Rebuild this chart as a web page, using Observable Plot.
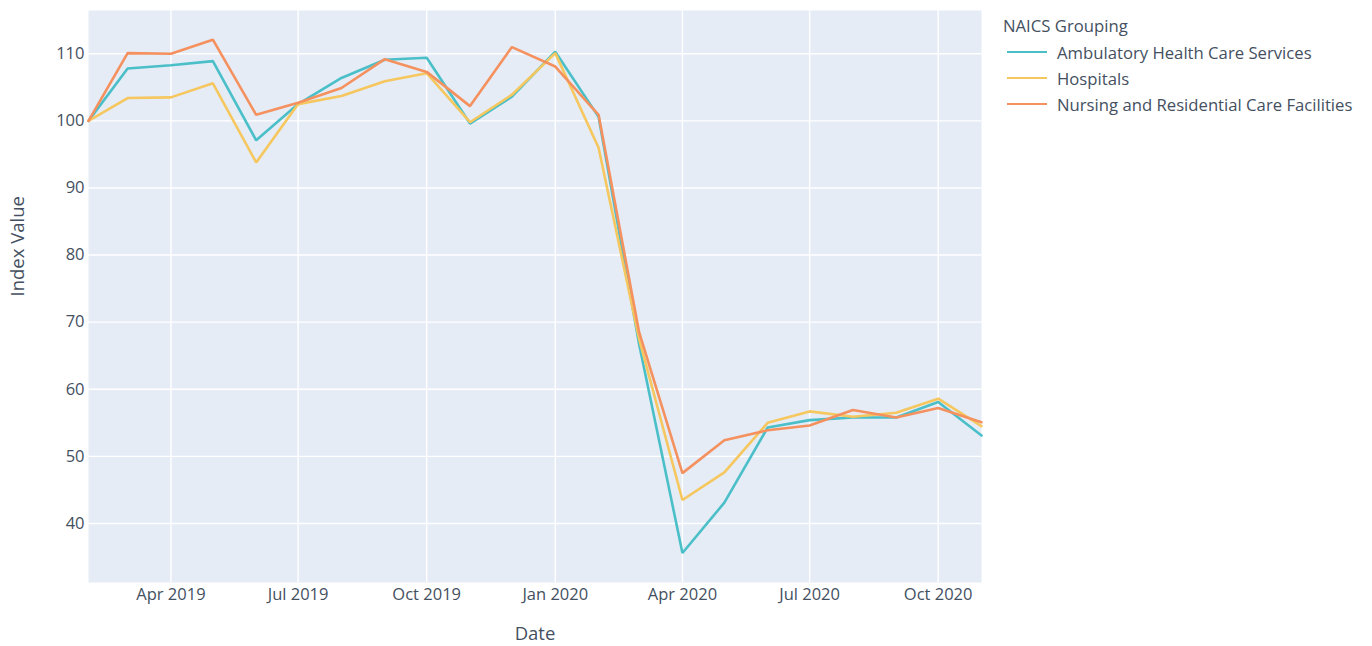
<!DOCTYPE html>
<html>
<head>
<meta charset="utf-8">
<script src="https://cdn.jsdelivr.net/npm/d3@7"></script>
<script src="https://cdn.jsdelivr.net/npm/@observablehq/plot@0.6"></script>
<style>
  html, body { margin: 0; padding: 0; background: #fff; }
  body { width: 1372px; height: 646px; position: relative; overflow: hidden; font-family: "Open Sans", sans-serif; }
  #legend { position: absolute; left: 1003px; top: 13px; color: #44505f; font-size: 16.7px; }
  #legend .title { height: 26px; line-height: 26px; }
  #legend .item { height: 26px; display: flex; align-items: center; }
  #legend .swatch { width: 40px; height: 0; border-top: 2.5px solid; margin-left: 4px; margin-right: 10px; }
</style>
</head>
<body>
<div id="chart"></div>
<div id="legend"></div>
<script>
const months = ["2019-02","2019-03","2019-04","2019-05","2019-06","2019-07","2019-08","2019-09","2019-10","2019-11","2019-12",
                "2020-01","2020-02","2020-03","2020-04","2020-05","2020-06","2020-07","2020-08","2020-09","2020-10","2020-11"];
const seriesNames = ["Ambulatory Health Care Services", "Hospitals", "Nursing and Residential Care Facilities"];
const ambulatory = [100, 107.8, 108.3, 108.9, 97.1, 102.5, 106.4, 109.1, 109.4, 99.6, 103.6, 110.3, 100.6, 66.7, 35.6, 43.1, 54.3, 55.4, 55.8, 55.8, 58.1, 53.1];
const hospitals  = [100, 103.4, 103.5, 105.6, 93.8, 102.5, 103.7, 105.9, 107.1, 99.8, 103.9, 110.1, 96.0, 67.5, 43.5, 47.6, 55.0, 56.7, 55.9, 56.5, 58.6, 54.5];
const nursing    = [100, 110.1, 110.0, 112.1, 100.9, 102.7, 104.9, 109.2, 107.3, 102.2, 111.0, 108.1, 100.9, 68.5, 47.5, 52.4, 53.9, 54.6, 56.9, 55.8, 57.2, 55.1];
const colors = ["#4bbfc8", "#f6c75e", "#f4915f"];
const yTicks = [40, 50, 60, 70, 80, 90, 100, 110];
const xTickLabels = ["2019-04","2019-07","2019-10","2020-01","2020-04","2020-07","2020-10"];

const parse = s => new Date(s + "-01T00:00:00Z");
const allSeries = [ambulatory, hospitals, nursing];
const rows = [];
allSeries.forEach((vals, si) => vals.forEach((v, i) => rows.push({date: parse(months[i]), value: v, series: seriesNames[si]})));
const xTicks = xTickLabels.map(parse);
const fmt = d3.utcFormat("%b %Y");
const textColor = "#44505f";

const chart = Plot.plot({
  width: 1372,
  height: 646,
  marginLeft: 88,
  marginRight: 391,
  marginTop: 10,
  marginBottom: 64,
  style: { fontFamily: "Open Sans, sans-serif", fontSize: "16.5px", color: textColor, background: "#fff" },
  x: { type: "utc", domain: [parse(months[0]), parse(months[months.length - 1])] },
  y: { domain: [31.2, 116.45] },
  color: { domain: seriesNames, range: colors },
  marks: [
    Plot.frame({ fill: "#e5ecf6", stroke: "none" }),
    Plot.gridX(xTicks, { stroke: "#ffffff", strokeOpacity: 1, strokeWidth: 1.4 }),
    Plot.gridY(yTicks, { stroke: "#ffffff", strokeOpacity: 1, strokeWidth: 1.4 }),
    Plot.axisX(xTicks, { tickSize: 0, tickPadding: 6, tickFormat: fmt, fill: textColor, label: null, fontSize: 16.5 }),
    Plot.axisY(yTicks, { tickSize: 0, tickPadding: 4, fill: textColor, label: null, fontSize: 16.5 }),
    Plot.lineY(rows, { x: "date", y: "value", stroke: "series", z: "series", strokeWidth: 2.6, strokeLinejoin: "miter", curve: "linear" }),
    Plot.text(["Date"], { frameAnchor: "bottom", dy: 57, fill: textColor, fontSize: 18.5 }),
    Plot.text(["Index Value"], { frameAnchor: "left", dx: -70, rotate: -90, fill: textColor, fontSize: 18.5 })
  ]
});
document.getElementById("chart").appendChild(chart);

const legend = document.getElementById("legend");
const t = document.createElement("div");
t.className = "title";
t.textContent = "NAICS Grouping";
legend.appendChild(t);
seriesNames.forEach((name, i) => {
  const it = document.createElement("div");
  it.className = "item";
  const sw = document.createElement("div");
  sw.className = "swatch";
  sw.style.borderTopColor = colors[i];
  const lab = document.createElement("span");
  lab.textContent = name;
  it.appendChild(sw);
  it.appendChild(lab);
  legend.appendChild(it);
});
</script>
</body>
</html>
